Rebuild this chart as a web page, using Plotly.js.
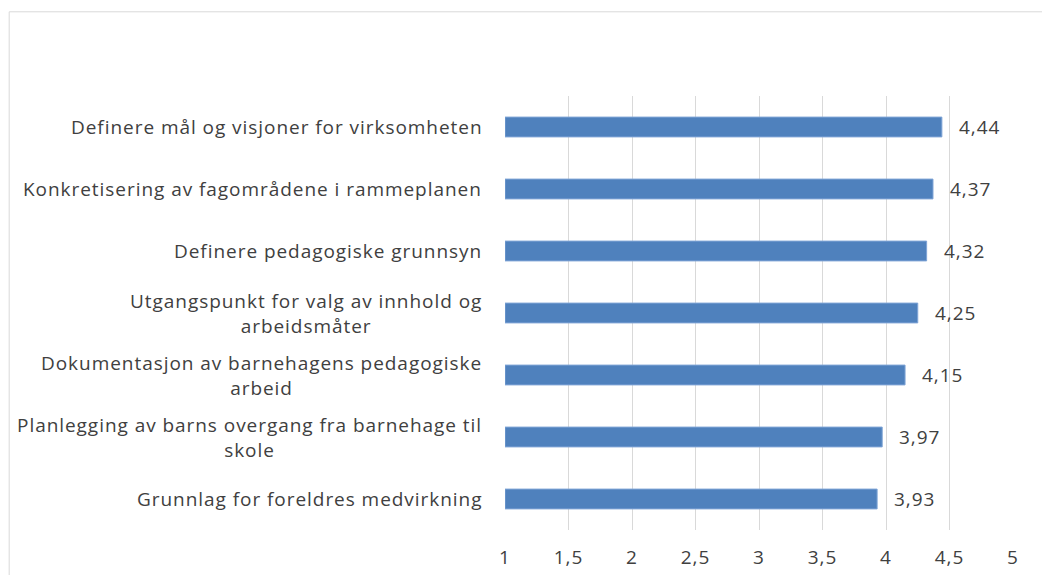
<!DOCTYPE html>
<html>
<head>
<meta charset="utf-8">
<script src="https://cdn.plot.ly/plotly-3.0.1.min.js"></script>
<style>
html,body{margin:0;padding:0;background:#fff;}
#chart{width:1042px;height:575px;}
svg text{letter-spacing:0.95px;}
</style>
</head>
<body>
<div id="chart"></div>
<script>
const categories = [
  "Definere mål og visjoner for virksomheten",
  "Konkretisering av fagområdene i rammeplanen",
  "Definere pedagogiske grunnsyn",
  "Utgangspunkt for valg av innhold og<br>arbeidsmåter",
  "Dokumentasjon av barnehagens pedagogiske<br>arbeid",
  "Planlegging av barns overgang fra barnehage til<br>skole",
  "Grunnlag for foreldres medvirkning"
];
const values = [4.44, 4.37, 4.32, 4.25, 4.15, 3.97, 3.93];
const tickVals = [1, 1.5, 2, 2.5, 3, 3.5, 4, 4.5, 5];
const tickText = ["1", "1,5", "2", "2,5", "3", "3,5", "4", "4,5", "5"];

const labels = values.map(v => v.toFixed(2).replace(".", ","));
const FONT = "'Open Sans', sans-serif";
const FS = 19;

const trace = {
  type: "bar",
  orientation: "h",
  y: categories,
  x: values.map(v => v - 1),
  base: 1,
  marker: {color: "#4F81BD", line: {color: "#7FA4D6", width: 1}},
  hoverinfo: "skip"
};

const valueAnnotations = values.map((v, i) => ({
  x: v, y: categories[i], xref: "x", yref: "y",
  text: labels[i], showarrow: false,
  xanchor: "left", yanchor: "middle", xshift: 15,
  font: {family: FONT, size: FS, color: "#404040"}
}));

const categoryAnnotations = categories.map(c => ({
  x: 0, y: c, xref: "paper", yref: "y",
  text: c, showarrow: false, align: "center",
  xanchor: "right", yanchor: "middle", xshift: -22,
  borderpad: 0,
  font: {family: FONT, size: FS, color: "#404040"}
}));

const layout = {
  width: 1042,
  height: 575,
  margin: {l: 505, r: 29, t: 96, b: 45},
  paper_bgcolor: "#ffffff",
  plot_bgcolor: "#ffffff",
  showlegend: false,
  bargap: 0.68,
  font: {family: FONT, size: FS, color: "#404040"},
  xaxis: {
    range: [1, 5],
    tickvals: tickVals,
    ticktext: tickText,
    showgrid: true,
    gridcolor: "#D9D9D9",
    gridwidth: 1,
    zeroline: false,
    showline: false,
    ticks: "",
    ticklabelstandoff: 14,
    tickfont: {family: FONT, size: FS, color: "#404040"},
    fixedrange: true
  },
  yaxis: {
    type: "category",
    autorange: "reversed",
    showgrid: false,
    zeroline: false,
    showline: false,
    ticks: "",
    showticklabels: false,
    fixedrange: true
  },
  annotations: categoryAnnotations.concat(valueAnnotations),
  shapes: [{
    type: "rect",
    xref: "paper", yref: "paper",
    x0: -0.976, x1: 1.2,
    y0: -0.3, y1: 1.194,
    line: {color: "#D9D9D9", width: 1},
    fillcolor: "rgba(0,0,0,0)",
    layer: "below"
  }]
};

Plotly.newPlot("chart", [trace], layout, {displayModeBar: false, staticPlot: true});
</script>
</body>
</html>
